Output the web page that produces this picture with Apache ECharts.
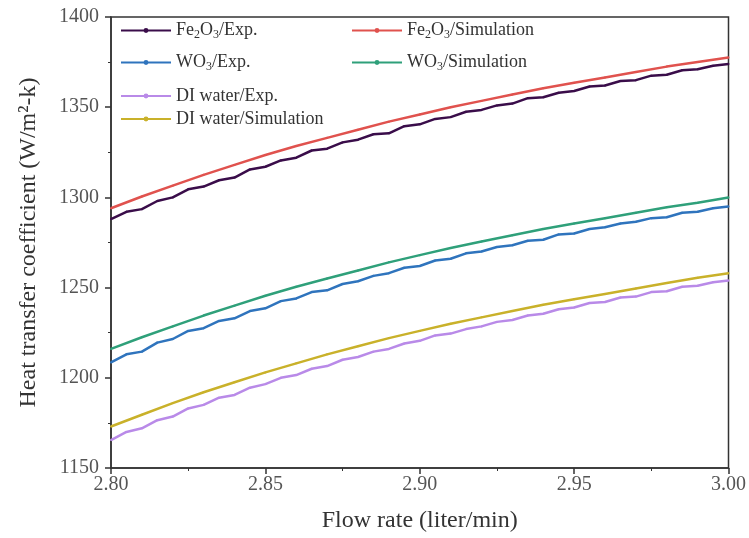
<!DOCTYPE html>
<html>
<head>
<meta charset="utf-8">
<script src="https://cdn.jsdelivr.net/npm/echarts@6/dist/echarts.min.js"></script>
<style>html,body{margin:0;padding:0;background:#fff}#c{width:749px;height:538px}</style>
</head>
<body>
<div id="c"></div>
<script>
// Flow rates (liter/min)
const flowSim = [2.80,2.81,2.82,2.83,2.84,2.85,2.86,2.87,2.88,2.89,2.90,2.91,2.92,2.93,2.94,2.95,2.96,2.97,2.98,2.99,3.00];
const flowExp = [2.800,2.805,2.810,2.815,2.820,2.825,2.830,2.835,2.840,2.845,2.850,2.855,2.860,2.865,2.870,2.875,2.880,2.885,2.890,2.895,2.900,2.905,2.910,2.915,2.920,2.925,2.930,2.935,2.940,2.945,2.950,2.955,2.960,2.965,2.970,2.975,2.980,2.985,2.990,2.995,3.000];

const fe2o3Exp = [1288,1292,1293.5,1298,1300,1304.5,1306,1309.5,1311,1315.5,1317,1320.5,1322,1326,1327,1330.5,1332,1335,1335.5,1339.5,1340.5,1343.5,1344.5,1347.5,1348.5,1351,1352,1355,1355.5,1358,1359,1361.5,1362,1364.5,1365,1367.5,1368,1370.5,1371,1373,1374];
const fe2o3Sim = [1294,1300.5,1306.5,1312.5,1318,1323.5,1328.5,1333,1337.5,1342,1346,1350,1353.5,1357,1360.5,1363.5,1366.5,1369.5,1372.5,1375,1377.5];
const wo3Exp = [1208.5,1213,1214.5,1219.5,1221.5,1226,1227.5,1231.5,1233,1237,1238.5,1242.5,1244,1247.5,1248.5,1252,1253.5,1256.5,1258,1261,1262,1265,1266,1269,1270,1272.5,1273.5,1276,1276.5,1279.5,1280,1282.5,1283.5,1285.5,1286.5,1288.5,1289,1291.5,1292,1294,1295];
const wo3Sim = [1216,1222.5,1228.5,1234.5,1240,1245.5,1250.5,1255,1259.5,1264,1268,1272,1275.5,1279,1282.5,1285.5,1288.5,1291.5,1294.5,1297,1300];
const diExp = [1165.5,1170,1172,1176.5,1178.5,1183,1185,1189,1190.5,1194.5,1196.5,1200,1201.5,1205,1206.5,1210,1211.5,1214.5,1216,1219,1220.5,1223.5,1224.5,1227,1228.5,1231,1232,1234.5,1235.5,1238,1239,1241.5,1242,1244.5,1245,1247.5,1248,1250.5,1251,1253,1254];
const diSim = [1173,1179.5,1186,1192,1197.5,1203,1208,1213,1217.5,1222,1226,1230,1233.5,1237,1240.5,1243.5,1246.5,1249.5,1252.5,1255.5,1258];

const xTicks = [2.80,2.85,2.90,2.95,3.00];
const yTicks = [1150,1200,1250,1300,1350,1400];

const names = ['Fe2O3/Exp.','Fe2O3/Simulation','WO3/Exp.','WO3/Simulation','DI water/Exp.','DI water/Simulation'];
const colors = ['#3a0d4a','#e0524e','#2f74bd','#2fa07a','#b98ae8','#c9b12a'];

function pairs(xs, ys){ return xs.map((x,i)=>[x, ys[i]]); }
const seriesData = [
  pairs(flowExp, fe2o3Exp), pairs(flowSim, fe2o3Sim),
  pairs(flowExp, wo3Exp), pairs(flowSim, wo3Sim),
  pairs(flowExp, diExp), pairs(flowSim, diSim)
];

const font = 'Liberation Serif';
function fmtName(n){
  let m;
  if ((m = n.match(/^Fe2O3\/(.*)$/))) return '{n|Fe}{s|2}{n|O}{s|3}{n|/' + m[1] + '}';
  if ((m = n.match(/^WO3\/(.*)$/))) return '{n|WO}{s|3}{n|/' + m[1] + '}';
  return '{n|' + n + '}';
}
const legendPos = [
  {left:115, top:15}, {left:346, top:15},
  {left:115, top:47}, {left:346, top:47},
  {left:115, top:82}, {left:115, top:105}
];
const legends = names.map((n,i)=>({
  data:[n], left:legendPos[i].left, top:legendPos[i].top,
  itemWidth:50, itemHeight:6, itemGap:6,
  formatter: fmtName,
  textStyle:{ fontFamily:font, fontSize:18, color:'#333', rich:{
    n:{fontFamily:font, fontSize:18, color:'#333', lineHeight:22},
    s:{fontFamily:font, fontSize:12, color:'#333', padding:[9,0,0,0], lineHeight:22}
  }}
}));

const chart = echarts.init(document.getElementById('c'), null, {renderer:'canvas'});
chart.setOption({
  animation:false,
  backgroundColor:'#fff',
  color: colors,
  grid:{left:111, right:19, top:17, bottom:66, show:true, borderColor:'#333', borderWidth:1.5, backgroundColor:'transparent'},
  legend: legends,
  xAxis:{
    type:'value', min:xTicks[0], max:xTicks[xTicks.length-1], interval:0.05,
    name:'Flow rate (liter/min)', nameLocation:'middle', nameGap:41,
    nameTextStyle:{fontFamily:font, fontSize:24, color:'#333'},
    axisLine:{lineStyle:{color:'#333', width:1.5}},
    axisTick:{inside:false, length:6, lineStyle:{color:'#333', width:1.5}},
    minorTick:{show:true, splitNumber:2, length:3, lineStyle:{color:'#333'}},
    splitLine:{show:false},
    axisLabel:{fontFamily:font, fontSize:20, color:'#555', margin:7, formatter:v=>v.toFixed(2)}
  },
  yAxis:{
    type:'value', min:yTicks[0], max:yTicks[yTicks.length-1], interval:50,
    name:'Heat transfer coefficient (W/m\u00b2-k)', nameLocation:'middle', nameGap:70,
    nameTextStyle:{fontFamily:font, fontSize:24, color:'#333'},
    axisLine:{show:true, lineStyle:{color:'#333', width:1.5}},
    axisTick:{show:true, inside:false, length:6, lineStyle:{color:'#333', width:1.5}},
    minorTick:{show:true, splitNumber:2, length:3, lineStyle:{color:'#333'}},
    splitLine:{show:false},
    axisLabel:{fontFamily:font, fontSize:20, color:'#555', margin:12, formatter:v=>String(v)}
  },
  series: names.map((n,i)=>({
    name:n, type:'line', data:seriesData[i],
    symbol:'circle', symbolSize:2, showSymbol:true,
    lineStyle:{width:2.5, color:colors[i]},
    itemStyle:{color:colors[i]},
    z: (i%2===0)?3:2
  }))
});
</script>
</body>
</html>
